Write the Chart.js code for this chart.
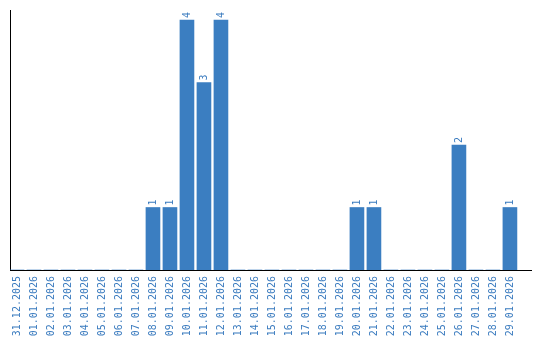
<!DOCTYPE html>
<html>
<head>
<meta charset="utf-8">
<script src="https://cdn.jsdelivr.net/npm/chart.js@4/dist/chart.umd.min.js"></script>
<style>
  html, body { margin: 0; padding: 0; background: #ffffff; }
  canvas { display: block; }
</style>
</head>
<body>
<canvas id="c" width="540" height="340"></canvas>
<script>
const categories = [
  '31.12.2025','01.01.2026','02.01.2026','03.01.2026','04.01.2026','05.01.2026',
  '06.01.2026','07.01.2026','08.01.2026','09.01.2026','10.01.2026','11.01.2026',
  '12.01.2026','13.01.2026','14.01.2026','15.01.2026','16.01.2026','17.01.2026',
  '18.01.2026','19.01.2026','20.01.2026','21.01.2026','22.01.2026','23.01.2026',
  '24.01.2026','25.01.2026','26.01.2026','27.01.2026','28.01.2026','29.01.2026'
];
const counts = [0,0,0,0,0,0,0,0,1,1,4,3,4,0,0,0,0,0,0,0,1,1,0,0,0,0,2,0,0,1];

const BLUE = '#3b7ec1';
const TEXT_BLUE = '#3a7bbf';
const FONT = { family: "'DejaVu Sans Mono', monospace", size: 10 };

const valueLabels = {
  id: 'valueLabels',
  afterDatasetsDraw(chart) {
    const ctx = chart.ctx;
    const meta = chart.getDatasetMeta(0);
    ctx.save();
    ctx.fillStyle = TEXT_BLUE;
    ctx.font = FONT.size + 'px ' + FONT.family;
    ctx.textAlign = 'left';
    ctx.textBaseline = 'middle';
    meta.data.forEach((bar, i) => {
      const v = counts[i];
      if (!v) return;
      ctx.save();
      ctx.translate(bar.x, bar.y - 2);
      ctx.rotate(-Math.PI / 2);
      ctx.fillText(String(v), 0, 0);
      ctx.restore();
    });
    ctx.restore();
  }
};

new Chart(document.getElementById('c'), {
  type: 'bar',
  data: {
    datasets: [{
      data: counts.map((v, i) => ({ x: i, y: v })),
      backgroundColor: BLUE,
      borderWidth: 0,
      barThickness: 14
    }]
  },
  options: {
    responsive: false,
    animation: false,
    layout: { padding: { top: 10, right: 9, left: 0, bottom: 0 } },
    plugins: { legend: { display: false }, tooltip: { enabled: false } },
    scales: {
      x: {
        type: 'linear',
        min: -0.41,
        max: 30.24,
        offset: false,
        grid: { display: false, drawTicks: false },
        border: { display: true, color: '#000000', width: 1 },
        afterFit: s => { s.height = 70; s.paddingLeft = 0; s.paddingRight = 0; },
        ticks: {
          stepSize: 1,
          includeBounds: false,
          autoSkip: false,
          minRotation: 90,
          maxRotation: 90,
          padding: 6,
          color: TEXT_BLUE,
          font: FONT,
          callback: v => (Number.isInteger(v) && categories[v] !== undefined) ? categories[v] : ''
        }
      },
      y: {
        min: 0,
        max: 4.16,
        grid: { display: false, drawTicks: false },
        border: { display: true, color: '#000000', width: 1 },
        ticks: { display: false },
        afterFit: s => { s.width = 10; }
      }
    }
  },
  plugins: [valueLabels]
});
</script>
</body>
</html>
